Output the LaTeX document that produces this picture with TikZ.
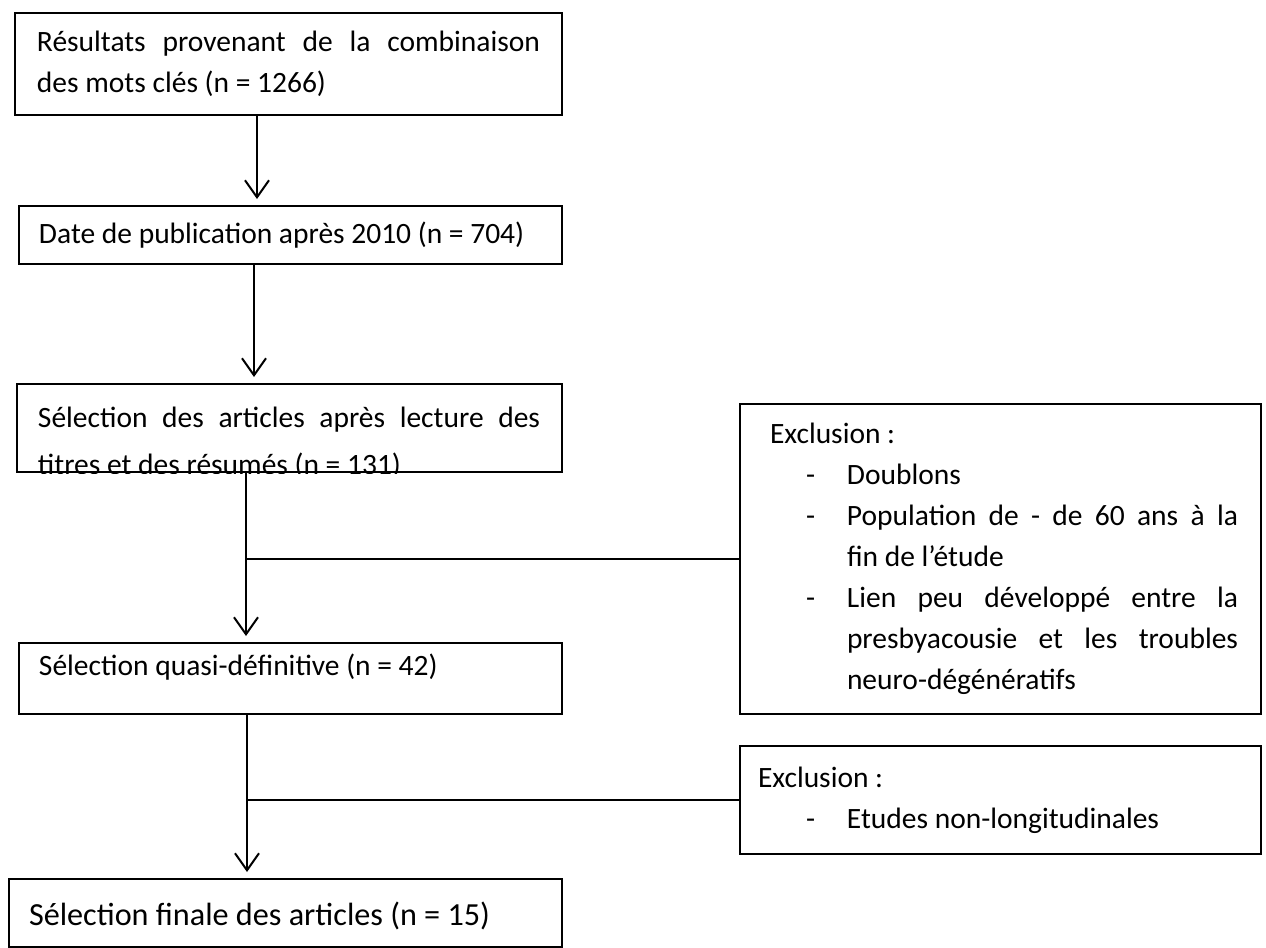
\documentclass[tikz,border=0pt]{standalone}
\usepackage{fontspec}
\setmainfont{Carlito}
\usepackage{tikz}
\usetikzlibrary{arrows.meta,positioning}
\newcommand{\excitem}[1]{\par\hangindent=42pt\hangafter=0\noindent\llap{\makebox[20.5pt][l]{-}}#1\par}

\begin{document}
\begin{tikzpicture}[x=0.5pt, y=-0.5pt,
    stage/.style={draw, line width=1pt, anchor=north west, inner xsep=10pt, inner ysep=0pt, align=justify, font=\fontsize{14.75pt}{20.5pt}\selectfont},
    link/.style={line width=1pt},
    flow/.style={link, -{Straight Barb[length=8.5pt, width=12pt, line width=1pt]}, shorten >=3pt}]
  \useasboundingbox (0,0) rectangle (1266,948);
  % Selection stages
  \node[stage, inner xsep=11pt, text width=251.5pt, minimum height=51pt] (res) at (14,12) {Résultats provenant de la combinaison\linebreak des mots clés (n = 1266)};
  \node[stage, text width=251.5pt, minimum height=29pt] (date) at (18,205) {Date de publication après 2010 (n = 704)};
  \node[stage, text width=252.5pt, minimum height=44pt] (sel) at (16,383) {};
  \begin{scope}
    \clip (sel.north west) rectangle (sel.south east);
    \node[stage, draw=none, anchor=base west, inner sep=0pt, text width=251pt, font=\fontsize{14.75pt}{23.5pt}\selectfont] (seltxt) at (37,427) {Sélection des articles après lecture des\linebreak titres et des résumés (n = 131)};
  \end{scope}
  \node[stage, text width=251.5pt, minimum height=35.5pt, text depth=14pt] (quasi) at (18,642) {Sélection quasi-définitive (n = 42)};
  \node[stage, text width=256.5pt, minimum height=34pt, text height=15pt, font=\fontsize{16.1pt}{20.5pt}\selectfont] (fin) at (8,878) {Sélection finale des articles (n = 15)};
  % Exclusions
  \node[stage, text width=237.5pt, inner xsep=11.5pt, minimum height=155pt] (excA) at (739,403) {\hspace*{3.5pt}Exclusion :\excitem{Doublons}\excitem{Population de - de 60 ans à la\linebreak fin de l’étude}\excitem{Lien peu développé entre la\linebreak presbyacousie et les troubles\linebreak neuro-dégénératifs}};
  \node[stage, text width=237.5pt, inner xsep=11.5pt, minimum height=54pt] (excB) at (739,745) {\hspace*{-2.5pt}Exclusion :\excitem{Etudes non-longitudinales}};
  % Connectors
  \coordinate (x1) at (257,0);
  \coordinate (x2) at (254,0);
  \coordinate (x3) at (246,0);
  \coordinate (x4) at (247,0);
  \draw[flow] (res.south -| x1) -- (date.north -| x1);
  \draw[flow] (date.south -| x2) -- (sel.north -| x2);
  \draw[flow] (sel.south -| x3) -- (quasi.north -| x3);
  \draw[flow] (quasi.south -| x4) -- (fin.north -| x4);
  \draw[link] (excA.west -| x3) -- (excA.west);
  \draw[link] (excB.west -| x4) -- (excB.west);
\end{tikzpicture}
\end{document}
